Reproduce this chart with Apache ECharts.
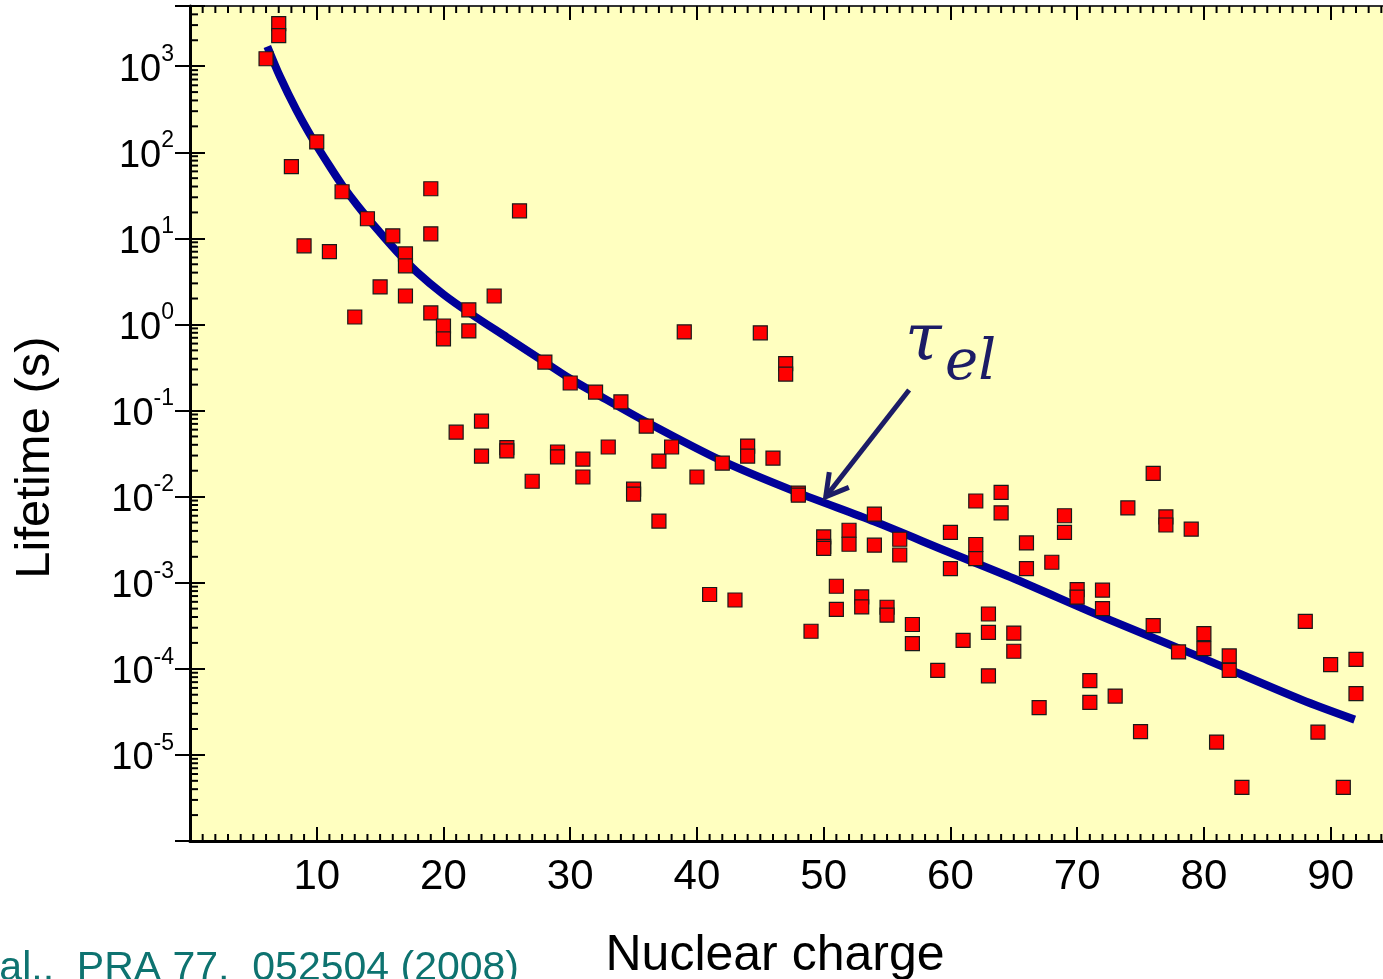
<!DOCTYPE html>
<html>
<head>
<meta charset="utf-8">
<script src="https://cdn.jsdelivr.net/npm/echarts@6/dist/echarts.min.js"></script>
<style>
  html, body { margin: 0; padding: 0; background: #ffffff; }
  #chart { width: 1383px; height: 979px; }
</style>
</head>
<body>
<div id="chart"></div>
<script>
// Measured lifetimes (s) of ions, by nuclear charge Z
const charge = [
  6, 7, 7, 8, 9, 10, 11, 12, 13, 14, 15, 16, 17, 17, 17, 19, 19, 19, 20, 20,
  21, 22, 22, 23, 23, 24, 25, 25, 26, 27, 28, 29, 29, 30, 31, 31, 32, 33, 34, 35,
  35, 36, 37, 37, 38, 39, 40, 41, 42, 43, 44, 44, 45, 46, 47, 47, 48, 48, 49, 50,
  50, 50, 51, 51, 52, 52, 53, 53, 54, 54, 55, 55, 56, 56, 57, 57, 59, 60, 60, 61,
  62, 62, 62, 63, 63, 63, 64, 64, 65, 65, 66, 66, 67, 68, 69, 69, 70, 70, 71, 71,
  72, 72, 73, 74, 75, 76, 76, 77, 77, 78, 79, 80, 80, 81, 82, 82, 83, 88, 89, 90,
  91, 92, 92
];
const lifetime = [
  1220, 3120, 2260, 68, 8.2, 132, 7.0, 34.8, 1.22, 16.9, 2.73, 10.7, 6.6, 4.8, 2.14, 37.7, 11.3, 1.36, 0.96, 0.68,
  0.056, 1.48, 0.84, 0.0755, 0.0296, 2.14, 0.037, 0.034, 20.9, 0.0151, 0.366, 0.033, 0.029, 0.209, 0.0273, 0.0169, 0.164, 0.0377, 0.126, 0.0122,
  0.0107, 0.066, 0.0259, 0.0052, 0.0377, 0.82, 0.0169, 0.00073, 0.0245, 0.00063, 0.0387, 0.0296, 0.80, 0.028, 0.35, 0.265, 0.011, 0.0104, 0.000273, 0.0034,
  0.00265, 0.0025, 0.00091, 0.00049, 0.00407, 0.0028, 0.000684, 0.000524, 0.00627, 0.00273, 0.000519, 0.00042, 0.0032, 0.0021, 0.000327, 0.000196, 0.000096, 0.00384, 0.00146, 0.000214,
  0.0089, 0.00278, 0.00191, 0.000433, 0.000265, 0.000083, 0.0112, 0.00649, 0.00026, 0.00016, 0.0029, 0.00146, 0.0000354, 0.00173, 0.0060, 0.00384, 0.00083, 0.00068, 0.000073, 0.0000407,
  0.00082, 0.0005, 0.0000483, 0.0074, 0.0000186, 0.0186, 0.000318, 0.00582, 0.00468, 0.000157, 0.00419, 0.000256, 0.000172, 0.0000141, 0.000141, 0.000096, 0.00000419, 0.000356, 0.0000184, 0.000112,
  0.00000419, 0.000129, 0.0000515
];

// Electron-loss lifetime curve (tau_el)
const curveCharge = [6.1, 7.1, 8.4, 9.7, 11.1, 12.0, 13.2, 14.8, 16.3, 17.9, 20.0, 22.1, 25.0, 27.9, 30.0, 32.0,
  36.1, 41.9, 47.9, 54.0, 59.8, 65.0, 71.9, 79.8, 87.7, 91.9];
const curveLifetime = [1698, 759, 309, 141, 66.1, 41.7, 24.3, 12.6, 7.08, 4.07, 2.24, 1.35, 0.708, 0.372, 0.234, 0.158,
  0.0724, 0.0263, 0.0112, 0.00513, 0.00229, 0.00112, 0.000407, 0.000135, 0.0000437, 0.0000257];

// Tick labels
const xTickLabels = [10, 20, 30, 40, 50, 60, 70, 80, 90];
const yTickExponents = [3, 2, 1, 0, -1, -2, -3, -4, -5];

// Arrow pointing at the curve: [tip Z, tip lifetime, tail Z, tail lifetime]
const arrowAnchor = [50.16, 0.00995, 56.74, 0.173];

const X_MIN = 0, X_MAX = 95;
const Y_MIN = 1e-6, Y_MAX = 5000;
const FONT = "'Liberation Sans', Arial, Helvetica, sans-serif";

const scatterData = charge.map((z, i) => [z, lifetime[i]]);
const curveData = curveCharge.map((z, i) => [z, curveLifetime[i]]);

// minor tick positions: every unit along Z, 2..9 x 10^n along lifetime
const xMinor = [];
for (let z = 1; z < X_MAX; z++) if (z % 10 !== 0) xMinor.push([z, Y_MIN]);
const yMinor = [];
for (let n = -6; n <= 3; n++) {
  for (let k = 2; k <= 9; k++) {
    const v = k * Math.pow(10, n);
    if (v < Y_MAX) yMinor.push([X_MIN, v]);
  }
}

function xLabel(v) {
  return xTickLabels.indexOf(Math.round(v)) >= 0 && Math.abs(v - Math.round(v)) < 1e-9 ? String(Math.round(v)) : '';
}
function yLabel(v) {
  const l = Math.log10(v);
  const e = Math.round(l);
  if (Math.abs(l - e) > 1e-6 || yTickExponents.indexOf(e) < 0) return '';
  return '{b|10}{s|' + e + '}';
}

const chart = echarts.init(document.getElementById('chart'), null, { renderer: 'canvas' });

const baseX = {
  type: 'value', min: X_MIN, max: X_MAX, interval: 10,
  splitLine: { show: false }
};
const baseY = {
  type: 'log', logBase: 10, min: Y_MIN, max: Y_MAX, splitNumber: 10,
  splitLine: { show: false }
};

chart.setOption({
  animation: false,
  backgroundColor: '#ffffff',
  grid: {
    left: 190, top: 6, width: 1204, height: 835,
    containLabel: false,
    outerBoundsMode: 'none',
    show: true, backgroundColor: '#ffffc0', borderWidth: 0
  },
  xAxis: [
    Object.assign({}, baseX, {
      position: 'bottom',
      name: 'Nuclear charge',
      nameLocation: 'middle',
      nameGap: 90,
      nameTextStyle: { fontFamily: FONT, fontSize: 50, color: '#000', padding: [0, 34, 0, 0] },
      axisLine: { lineStyle: { color: '#000', width: 3 } },
      axisTick: { inside: true, length: 14, lineStyle: { color: '#000', width: 2 } },
      axisLabel: { margin: 15, fontFamily: FONT, fontSize: 42, color: '#000', formatter: xLabel }
    }),
    Object.assign({}, baseX, {
      position: 'top',
      axisLine: { lineStyle: { color: '#333', width: 2 } },
      axisTick: { inside: true, length: 14, lineStyle: { color: '#000', width: 2 } },
      axisLabel: { show: false }
    })
  ],
  yAxis: [
    Object.assign({}, baseY, {
      position: 'left',
      name: 'Lifetime (s)',
      nameLocation: 'middle',
      nameGap: 130,
      nameTextStyle: { fontFamily: FONT, fontSize: 49, color: '#000', padding: [0, 68, 0, 0] },
      axisLine: { lineStyle: { color: '#000', width: 3 } },
      axisTick: { inside: true, length: 15, lineStyle: { color: '#000', width: 2 } },
      axisLabel: {
        margin: 16, color: '#000', formatter: yLabel,
        rich: {
          b: { fontFamily: FONT, fontSize: 38, lineHeight: 46, verticalAlign: 'bottom', color: '#000' },
          s: { fontFamily: FONT, fontSize: 23, lineHeight: 23, verticalAlign: 'top', color: '#000' }
        }
      }
    }),
    Object.assign({}, baseY, {
      position: 'right',
      axisLine: { lineStyle: { color: '#000', width: 2 } },
      axisTick: { inside: true, length: 15, lineStyle: { color: '#000', width: 2 } },
      axisLabel: { show: false }
    })
  ],
  graphic: [{
    type: 'text',
    x: 519, y: 948,
    style: {
      text: 'et al.,  PRA 77,  052504 (2008)',
      font: '41px ' + FONT,
      fill: '#0e7370',
      textAlign: 'right', align: 'right',
      textVerticalAlign: 'top', verticalAlign: 'top'
    }
  }],
  series: [
    {
      // minor ticks along Z (bottom and top edges)
      type: 'custom', silent: true, clip: false, z: 3,
      xAxisIndex: 0, yAxisIndex: 0,
      data: xMinor,
      renderItem: function (params, api) {
        const r = params.coordSys;
        const p = api.coord([api.value(0), api.value(1)]);
        const st = { stroke: '#000', lineWidth: 2 };
        return {
          type: 'group',
          children: [
            { type: 'line', shape: { x1: p[0], y1: r.y + r.height, x2: p[0], y2: r.y + r.height - 7 }, style: st },
            { type: 'line', shape: { x1: p[0], y1: r.y, x2: p[0], y2: r.y + 7 }, style: st }
          ]
        };
      }
    },
    {
      // logarithmic minor ticks (left and right edges)
      type: 'custom', silent: true, clip: false, z: 3,
      xAxisIndex: 0, yAxisIndex: 0,
      data: yMinor,
      renderItem: function (params, api) {
        const r = params.coordSys;
        const p = api.coord([api.value(0), api.value(1)]);
        const st = { stroke: '#000', lineWidth: 2 };
        return {
          type: 'group',
          children: [
            { type: 'line', shape: { x1: r.x, y1: p[1], x2: r.x + 8, y2: p[1] }, style: st },
            { type: 'line', shape: { x1: r.x + r.width, y1: p[1], x2: r.x + r.width - 8, y2: p[1] }, style: st }
          ]
        };
      }
    },
    {
      name: 'tau_el',
      type: 'line',
      data: curveData,
      smooth: 0.3,
      showSymbol: false,
      silent: true,
      lineStyle: { color: '#000099', width: 8, cap: 'butt' },
      z: 4
    },
    {
      name: 'lifetime',
      type: 'scatter',
      data: scatterData,
      symbol: 'rect',
      symbolSize: 14,
      itemStyle: { color: '#ff0000', borderColor: '#1a1a1a', borderWidth: 1.2, opacity: 1 },
      z: 5
    },
    {
      // arrow and label for the curve
      type: 'custom', silent: true, clip: false, z: 6,
      data: [arrowAnchor],
      renderItem: function (params, api) {
        const tip = api.coord([api.value(0), api.value(1)]);
        const tail = api.coord([api.value(2), api.value(3)]);
        const ang = Math.atan2(tail[1] - tip[1], tail[0] - tip[0]);
        const wl = 25, wa = 0.52;
        const w1 = [tip[0] + wl * Math.cos(ang - wa), tip[1] + wl * Math.sin(ang - wa)];
        const w2 = [tip[0] + wl * Math.cos(ang + wa), tip[1] + wl * Math.sin(ang + wa)];
        const col = '#1c1c66';
        return {
          type: 'group',
          children: [
            { type: 'polyline', shape: { points: [tail, tip] }, style: { stroke: col, lineWidth: 5, fill: null } },
            { type: 'polyline', shape: { points: [w1, tip, w2] }, style: { stroke: col, lineWidth: 5, fill: null, lineJoin: 'miter' } },
            { type: 'text', x: tail[0] - 4, y: tail[1] - 14,
              style: { text: 'τ', font: 'italic 66px "DejaVu Serif", serif', fill: col,
                       textAlign: 'left', align: 'left', textVerticalAlign: 'bottom', verticalAlign: 'bottom' } },
            { type: 'text', x: tail[0] + 36, y: tail[1] + 2,
              style: { text: 'el', font: 'italic 56px "DejaVu Serif", serif', fill: col,
                       textAlign: 'left', align: 'left', textVerticalAlign: 'bottom', verticalAlign: 'bottom' } }
          ]
        };
      }
    }
  ]
});
</script>
</body>
</html>
